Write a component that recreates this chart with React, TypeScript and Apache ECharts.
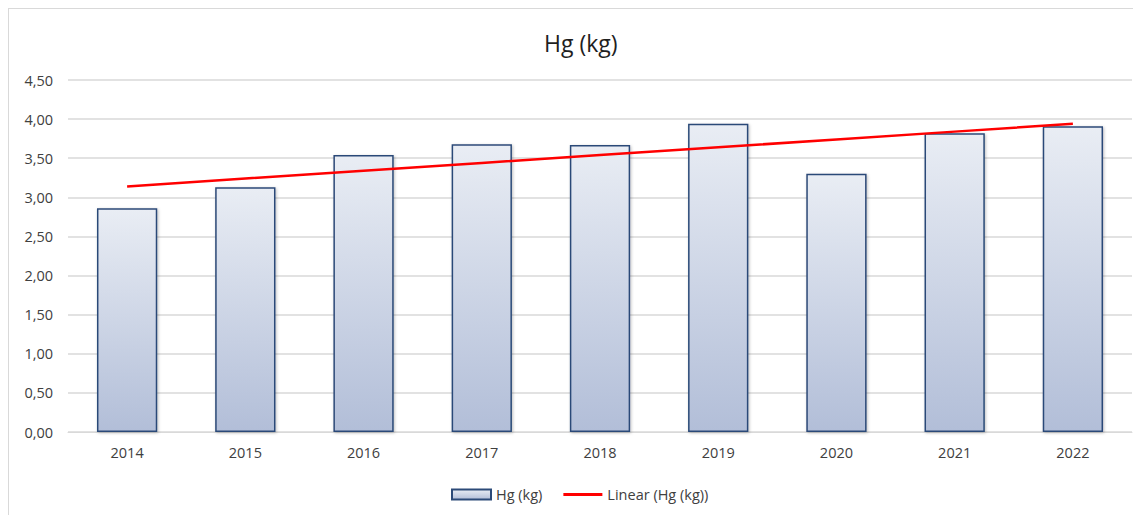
import React, { useEffect, useRef } from "react";
import * as echarts from "echarts";

const categories = ["2014", "2015", "2016", "2017", "2018", "2019", "2020", "2021", "2022"];
const hgValues = [2.86, 3.13, 3.54, 3.68, 3.67, 3.94, 3.3, 3.82, 3.91];
const trendValues = [3.14, 3.24, 3.34, 3.44, 3.54, 3.64, 3.74, 3.84, 3.94];
const titleText = "Hg (kg)";
const barName = "Hg (kg)";
const trendName = "Linear (Hg (kg))";

const FONT = "'Open Sans', 'Noto Sans', sans-serif";

export default function App() {
  const ref = useRef<HTMLDivElement>(null);
  useEffect(() => {
    if (!ref.current) return;
    const chart = echarts.init(ref.current, null, { renderer: "svg" });
    chart.setOption({
      animation: false,
      backgroundColor: "#ffffff",
      textStyle: { fontFamily: FONT },
      title: {
        text: titleText,
        left: 530,
        top: 17,
        textStyle: { fontFamily: FONT, fontSize: 23, fontWeight: "normal", color: "#1f1f1f" },
      },
      legend: {
        bottom: 8,
        left: 437,
        itemWidth: 39,
        itemHeight: 10,
        itemGap: 21,
        textStyle: { fontFamily: FONT, fontSize: 14.5, color: "#404040" },
        data: [
          { name: barName, icon: "rect" },
          { name: trendName, icon: "path://M0,0H40V3H0Z" },
        ],
      },
      grid: { left: 59, right: 9, top: 71, bottom: 83, containLabel: false },
      xAxis: {
        type: "category",
        data: categories,
        boundaryGap: true,
        axisLine: { show: true, lineStyle: { color: "#d9d9d9", width: 1 } },
        axisTick: { show: false },
        axisLabel: { fontFamily: FONT, fontSize: 14.5, color: "#404040", margin: 13 },
      },
      yAxis: {
        type: "value",
        min: 0,
        max: 4.5,
        interval: 0.5,
        axisLine: { show: false },
        axisTick: { show: false },
        splitLine: { lineStyle: { color: "#d9d9d9", width: 1.5 } },
        axisLabel: {
          fontFamily: FONT,
          fontSize: 14.5,
          color: "#404040",
          margin: 15,
          formatter: (v: number) => v.toFixed(2).replace(".", ","),
        },
      },
      series: [
        {
          name: barName,
          type: "bar",
          data: hgValues,
          barWidth: "51%",
          itemStyle: {
            color: new echarts.graphic.LinearGradient(0, 0, 0, 1, [
              { offset: 0, color: "#e9edf4" },
              { offset: 1, color: "#b2bed8" },
            ]),
            borderColor: "#2c4a78",
            borderWidth: 1.5,
            shadowColor: "rgba(0,0,0,0.25)",
            shadowBlur: 3,
            shadowOffsetX: 1,
            shadowOffsetY: 1,
          },
        },
        {
          name: trendName,
          type: "line",
          data: trendValues,
          symbol: "none",
          lineStyle: { color: "#ff0000", width: 2.5 },
          itemStyle: { color: "#ff0000" },
          z: 5,
        },
      ],
    });
    return () => chart.dispose();
  }, []);
  return (
    <div
      style={{
        width: 1133,
        height: 507,
        borderTop: "1px solid #d9d9d9",
        borderLeft: "1px solid #d9d9d9",
        boxSizing: "border-box",
        overflow: "hidden",
      }}
    >
      <div ref={ref} style={{ width: 1132, height: 506 }} />
    </div>
  );
}
